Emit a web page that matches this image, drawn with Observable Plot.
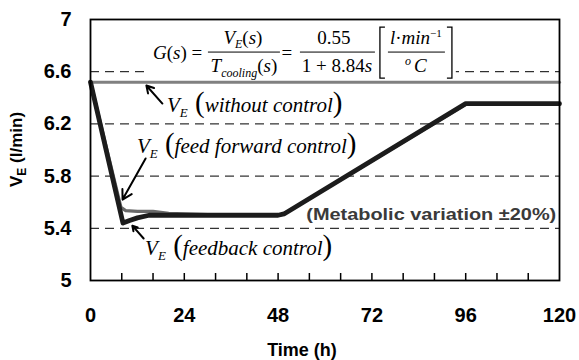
<!DOCTYPE html>
<html><head><meta charset="utf-8">
<script src="https://cdn.jsdelivr.net/npm/d3@7"></script>
<script src="https://cdn.jsdelivr.net/npm/@observablehq/plot@0.6"></script>
<style>body{margin:0;background:#fff} svg{display:block}</style>
</head><body><div id="chart"></div>
<script>
// ---- data ----
const timeWithout = [0, 120];
const veWithout   = [6.52, 6.52];
const timeFF = [0, 7.8, 9, 12, 16, 20, 30, 48, 49.5, 96, 120];
const veFF   = [6.52, 5.56, 5.535, 5.53, 5.53, 5.515, 5.505, 5.50, 5.51, 6.35, 6.35];
const timeFB = [0, 8.3, 10, 12, 15, 20, 48, 49.5, 96, 120];
const veFB   = [6.52, 5.44, 5.46, 5.48, 5.50, 5.50, 5.50, 5.51, 6.355, 6.355];

const xTickLabels = [0, 24, 48, 72, 96, 120];
const xMinorTicks = [8, 16, 24, 32, 40, 48, 56, 64, 72, 80, 88, 96, 104, 112];
const yTickLabels = [5, 5.4, 5.8, 6.2, 6.6, 7];
const gridValues  = [5.4, 5.8, 6.2, 6.6];

// annotation anchors (data units: hours, l/min)
const arrowT1 = [18.4, 14.1, 13.6];
const arrowV1 = [6.356, 5.935, 5.322];
const arrowT2 = [14.3, 8.2, 10.7];
const arrowV2 = [6.494, 5.62, 5.42];
const formulaBox = [{t1: 14.1, t2: 93.6, v1: 6.54, v2: 6.99}];
const formulaAt = [16.1, 6.693];
const labelNames = ["without control", "feed forward control", "feedback control"];
const labelT = [19.7, 12.0, 14.1];
const labelV = [6.287, 5.973, 5.192];
const metabolicText = "(Metabolic variation \u00b120%)";
const metabolicAt = [119.3, 5.46];

const series = [
  ...timeWithout.map((t, i) => ({t, v: veWithout[i], s: "without"})),
  ...timeFF.map((t, i) => ({t, v: veFF[i], s: "ff"})),
  ...timeFB.map((t, i) => ({t, v: veFB[i], s: "fb"}))
];
const arrows = arrowT1.map((t, i) => ({t1: t, v1: arrowV1[i], t2: arrowT2[i], v2: arrowV2[i]}));

const plot = Plot.plot({
  width: 579, height: 360,
  marginLeft: 90, marginRight: 20, marginTop: 19, marginBottom: 80,
  x: {domain: [0, 120]},
  y: {domain: [5, 7]},
  style: {fontFamily: "'Liberation Sans', Arial, sans-serif", background: "white", overflow: "visible"},
  marks: [
    Plot.ruleY(gridValues, {stroke: "#000", strokeWidth: 1, strokeDasharray: "9,6"}),
    Plot.rect(formulaBox, {x1: "t1", x2: "t2", y1: "v1", y2: "v2", fill: "white"}),
    Plot.line(series.filter(d => d.s === "without"), {x: "t", y: "v", stroke: "#808080", strokeWidth: 3}),
    Plot.line(series.filter(d => d.s === "ff"), {x: "t", y: "v", stroke: "#6a6a6a", strokeWidth: 3.2}),
    Plot.line(series.filter(d => d.s === "fb"), {x: "t", y: "v", stroke: "#1c1c1c", strokeWidth: 4.8}),
    Plot.arrow(arrows, {x1: "t1", y1: "v1", x2: "t2", y2: "v2", stroke: "#000", strokeWidth: 2, headLength: 8}),
    Plot.tickX(xMinorTicks, {stroke: "#000", strokeWidth: 1.5, insetTop: 254}),
    Plot.frame({stroke: "#000", strokeWidth: 1.8}),
    Plot.axisX(xTickLabels, {tickSize: 0, tickPadding: 27, fontSize: 20, fontWeight: "bold", label: null}),
    Plot.axisY(yTickLabels, {tickSize: 0, tickPadding: 19, fontSize: 20, fontWeight: "bold", label: null, tickFormat: d => String(d)})
  ]
});
document.getElementById("chart").append(plot);

// ---- rich text annotations placed through Plot's scales ----
const X = plot.scale("x"), Y = plot.scale("y");
const svg = d3.select(plot);
const SERIF = "'Liberation Serif', 'Times New Roman', serif";
const SANS = "'Liberation Sans', Arial, sans-serif";
const g = svg.append("g").style("font-family", SERIF).attr("fill", "#000");

function rich(parent, px, py, parts, anchor = "start", size = 19) {
  const t = parent.append("text").attr("x", px).attr("y", py).attr("text-anchor", anchor)
    .style("font-family", SERIF).style("font-size", size + "px");
  for (const p of parts) {
    const s = t.append("tspan").text(p.t);
    if (p.i) s.style("font-style", "italic");
    if (p.size) s.style("font-size", p.size + "px");
    if (p.dy) s.attr("dy", p.dy);
    if (p.dx) s.attr("dx", p.dx);
  }
  return t;
}
function hline(parent, x1, x2, y) {
  parent.append("line").attr("x1", x1).attr("x2", x2).attr("y1", y).attr("y2", y).attr("stroke", "#000").attr("stroke-width", 1);
}

// formula
const fx = X.apply(formulaAt[0]), fy = Y.apply(formulaAt[1]);
const f = g.append("g").attr("transform", `translate(${fx},${fy})`);
rich(f, 0, 0, [{t: "G", i: 1}, {t: "("}, {t: "s", i: 1}, {t: ") ="}]);
rich(f, 90, -15, [{t: "V", i: 1}, {t: "E", i: 1, size: 12, dy: 4}, {t: "(", dy: -4}, {t: "s", i: 1}, {t: ")"}], "middle");
hline(f, 55, 127, -7);
rich(f, 91, 13, [{t: "T", i: 1}, {t: "cooling", i: 1, size: 12, dy: 5}, {t: "(", dy: -5}, {t: "s", i: 1}, {t: ")"}], "middle");
rich(f, 134, 0, [{t: "="}], "middle");
rich(f, 181, -15, [{t: "0.55"}], "middle");
hline(f, 147, 222, -7);
rich(f, 184, 13, [{t: "1 + 8.84"}, {t: "s", i: 1}], "middle");
f.append("path").attr("d", "M232,-32H227V19H232").attr("fill", "none").attr("stroke", "#000").attr("stroke-width", 1.3);
f.append("path").attr("d", "M294,-32H299V19H294").attr("fill", "none").attr("stroke", "#000").attr("stroke-width", 1.3);
rich(f, 263, -15, [{t: "l", i: 1}, {t: "\u00b7"}, {t: "min", i: 1}, {t: "\u22121", size: 11, dy: -7}], "middle");
hline(f, 235, 292, -7);
rich(f, 263, 13, [{t: "o", i: 1, size: 12, dy: -7}, {t: "C", i: 1, dy: 7, dx: 3}], "middle");

// curve labels
labelNames.forEach((name, i) => {
  rich(g, X.apply(labelT[i]), Y.apply(labelV[i]), [
    {t: "V", i: 1},
    {t: "E", i: 1, size: 13, dy: 5},
    {t: " (", size: 29, dy: -5},
    {t: name, i: 1},
    {t: ")", size: 29}
  ], "start", 21);
});

// metabolic variation note
svg.append("text")
  .attr("x", X.apply(metabolicAt[0])).attr("y", Y.apply(metabolicAt[1]))
  .attr("text-anchor", "end").style("font-family", SANS)
  .style("font-weight", "bold").style("font-size", "17px").attr("fill", "#3a3a3a")
  .attr("textLength", 250).attr("lengthAdjust", "spacingAndGlyphs")
  .text(metabolicText);

// axis titles
const yMid = (Y.apply(5) + Y.apply(7)) / 2;
const yt = svg.append("text").attr("transform", `translate(22,${yMid}) rotate(-90)`)
  .attr("text-anchor", "middle").style("font-family", SANS)
  .style("font-weight", "bold").style("font-size", "17px").attr("fill", "#000");
yt.append("tspan").text("V");
yt.append("tspan").text("E").style("font-size", "12px").attr("dy", 4);
yt.append("tspan").text(" (l/min)").attr("dy", -4);

svg.append("text").attr("x", 302).attr("y", 356).attr("text-anchor", "middle")
  .style("font-family", SANS).style("font-weight", "bold")
  .style("font-size", "18px").attr("fill", "#000").text("Time (h)");
</script>
</body></html>
